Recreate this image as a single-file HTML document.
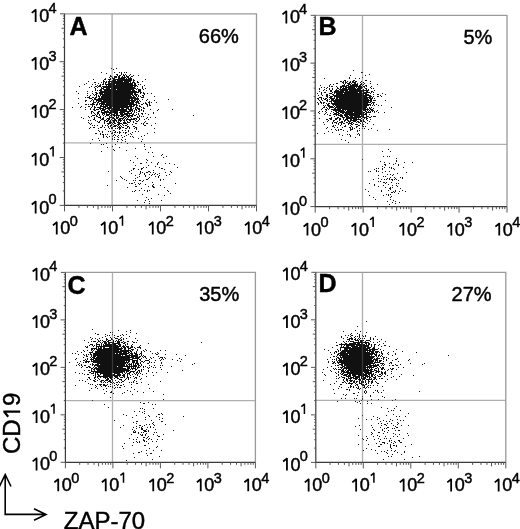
<!DOCTYPE html><html><head><meta charset="utf-8"><style>
html,body{margin:0;padding:0;background:#fff;width:520px;height:529px;overflow:hidden}
svg{display:block;will-change:transform}
text{font-family:"Liberation Sans",sans-serif;fill:#000;stroke:#000;stroke-width:0.45px}
.t{font-size:18px}
.s{font-size:14.5px}
.p{font-size:20px}
.l{font-size:25px;font-weight:bold}
.x{font-size:24px}
</style></head><body>
<svg width="520" height="529" viewBox="0 0 520 529">
<path d="M111 68h1v1h-1zM116 68h1v1h-1zM113 69h1v1h-1zM101 72h1v1h-1zM114 72h1v1h-1zM119 72h1v1h-1zM121 72h1v1h-1zM124 72h1v1h-1zM126 72h1v1h-1zM106 73h1v1h-1zM121 73h1v1h-1zM116 74h2v1h-2zM121 74h1v1h-1zM123 74h1v1h-1zM125 74h1v1h-1zM130 74h1v1h-1zM110 75h1v1h-1zM117 75h1v1h-1zM119 75h2v1h-2zM123 75h2v1h-2zM126 75h1v1h-1zM129 75h1v1h-1zM133 75h1v1h-1zM138 75h1v1h-1zM110 76h2v1h-2zM114 76h3v1h-3zM118 76h2v1h-2zM122 76h1v1h-1zM124 76h1v1h-1zM126 76h3v1h-3zM131 76h2v1h-2zM109 77h1v1h-1zM112 77h1v1h-1zM114 77h3v1h-3zM118 77h2v1h-2zM121 77h5v1h-5zM127 77h2v1h-2zM130 77h1v1h-1zM105 78h1v1h-1zM110 78h1v1h-1zM112 78h3v1h-3zM118 78h7v1h-7zM126 78h1v1h-1zM128 78h4v1h-4zM93 79h1v1h-1zM104 79h2v1h-2zM108 79h3v1h-3zM113 79h19v1h-19zM133 79h1v1h-1zM145 79h1v1h-1zM103 80h1v1h-1zM109 80h1v1h-1zM112 80h4v1h-4zM117 80h15v1h-15zM133 80h2v1h-2zM88 81h1v1h-1zM103 81h2v1h-2zM106 81h1v1h-1zM108 81h15v1h-15zM124 81h7v1h-7zM133 81h1v1h-1zM137 81h1v1h-1zM142 81h1v1h-1zM94 82h2v1h-2zM101 82h1v1h-1zM103 82h1v1h-1zM105 82h2v1h-2zM108 82h2v1h-2zM111 82h18v1h-18zM130 82h1v1h-1zM132 82h3v1h-3zM137 82h2v1h-2zM86 83h1v1h-1zM98 83h1v1h-1zM103 83h1v1h-1zM105 83h1v1h-1zM108 83h25v1h-25zM134 83h2v1h-2zM84 84h1v1h-1zM92 84h1v1h-1zM95 84h1v1h-1zM100 84h1v1h-1zM102 84h2v1h-2zM105 84h10v1h-10zM116 84h17v1h-17zM134 84h2v1h-2zM138 84h1v1h-1zM140 84h1v1h-1zM97 85h1v1h-1zM99 85h2v1h-2zM106 85h1v1h-1zM108 85h29v1h-29zM144 85h1v1h-1zM79 86h1v1h-1zM91 86h1v1h-1zM95 86h2v1h-2zM98 86h3v1h-3zM102 86h31v1h-31zM134 86h2v1h-2zM137 86h1v1h-1zM142 86h1v1h-1zM89 87h1v1h-1zM94 87h1v1h-1zM97 87h1v1h-1zM101 87h1v1h-1zM103 87h32v1h-32zM142 87h1v1h-1zM95 88h1v1h-1zM101 88h3v1h-3zM106 88h4v1h-4zM111 88h25v1h-25zM137 88h1v1h-1zM142 88h1v1h-1zM145 88h1v1h-1zM95 89h1v1h-1zM100 89h2v1h-2zM103 89h13v1h-13zM117 89h17v1h-17zM136 89h1v1h-1zM138 89h3v1h-3zM143 89h1v1h-1zM95 90h1v1h-1zM97 90h1v1h-1zM99 90h3v1h-3zM104 90h27v1h-27zM132 90h3v1h-3zM138 90h3v1h-3zM76 91h1v1h-1zM87 91h1v1h-1zM92 91h1v1h-1zM100 91h37v1h-37zM138 91h3v1h-3zM95 92h2v1h-2zM99 92h40v1h-40zM140 92h2v1h-2zM143 92h1v1h-1zM78 93h1v1h-1zM87 93h1v1h-1zM92 93h1v1h-1zM96 93h2v1h-2zM99 93h4v1h-4zM104 93h29v1h-29zM134 93h2v1h-2zM140 93h1v1h-1zM143 93h2v1h-2zM147 93h1v1h-1zM151 93h1v1h-1zM93 94h1v1h-1zM95 94h2v1h-2zM100 94h33v1h-33zM134 94h4v1h-4zM144 94h1v1h-1zM87 95h1v1h-1zM90 95h1v1h-1zM94 95h1v1h-1zM96 95h1v1h-1zM98 95h1v1h-1zM100 95h1v1h-1zM102 95h29v1h-29zM132 95h2v1h-2zM135 95h2v1h-2zM138 95h1v1h-1zM142 95h2v1h-2zM89 96h1v1h-1zM96 96h1v1h-1zM98 96h2v1h-2zM101 96h31v1h-31zM133 96h2v1h-2zM136 96h1v1h-1zM138 96h1v1h-1zM140 96h1v1h-1zM143 96h1v1h-1zM154 96h1v1h-1zM85 97h1v1h-1zM87 97h3v1h-3zM92 97h2v1h-2zM95 97h2v1h-2zM99 97h1v1h-1zM101 97h35v1h-35zM137 97h1v1h-1zM141 97h3v1h-3zM78 98h1v1h-1zM89 98h3v1h-3zM94 98h2v1h-2zM98 98h41v1h-41zM92 99h1v1h-1zM94 99h36v1h-36zM131 99h2v1h-2zM134 99h5v1h-5zM142 99h1v1h-1zM147 99h1v1h-1zM168 99h1v1h-1zM85 100h2v1h-2zM91 100h1v1h-1zM93 100h1v1h-1zM96 100h6v1h-6zM103 100h33v1h-33zM137 100h1v1h-1zM139 100h1v1h-1zM146 100h1v1h-1zM154 100h1v1h-1zM85 101h1v1h-1zM90 101h1v1h-1zM93 101h1v1h-1zM96 101h1v1h-1zM98 101h32v1h-32zM131 101h4v1h-4zM136 101h3v1h-3zM140 101h1v1h-1zM149 101h1v1h-1zM93 102h3v1h-3zM97 102h2v1h-2zM101 102h33v1h-33zM135 102h4v1h-4zM145 102h1v1h-1zM148 102h2v1h-2zM151 102h1v1h-1zM156 102h1v1h-1zM78 103h1v1h-1zM92 103h2v1h-2zM97 103h1v1h-1zM99 103h6v1h-6zM106 103h28v1h-28zM136 103h1v1h-1zM138 103h2v1h-2zM143 103h1v1h-1zM145 103h2v1h-2zM149 103h1v1h-1zM85 104h2v1h-2zM88 104h1v1h-1zM90 104h5v1h-5zM96 104h2v1h-2zM99 104h1v1h-1zM101 104h36v1h-36zM141 104h2v1h-2zM146 104h2v1h-2zM149 104h1v1h-1zM92 105h1v1h-1zM96 105h1v1h-1zM100 105h2v1h-2zM103 105h1v1h-1zM105 105h23v1h-23zM129 105h3v1h-3zM133 105h2v1h-2zM136 105h2v1h-2zM139 105h1v1h-1zM147 105h1v1h-1zM149 105h2v1h-2zM81 106h1v1h-1zM88 106h2v1h-2zM92 106h1v1h-1zM94 106h1v1h-1zM100 106h8v1h-8zM109 106h25v1h-25zM136 106h1v1h-1zM139 106h2v1h-2zM147 106h1v1h-1zM72 107h1v1h-1zM80 107h1v1h-1zM85 107h1v1h-1zM91 107h1v1h-1zM94 107h2v1h-2zM97 107h4v1h-4zM103 107h3v1h-3zM107 107h5v1h-5zM113 107h16v1h-16zM130 107h2v1h-2zM135 107h3v1h-3zM141 107h1v1h-1zM143 107h1v1h-1zM90 108h1v1h-1zM94 108h1v1h-1zM99 108h5v1h-5zM105 108h15v1h-15zM121 108h3v1h-3zM126 108h3v1h-3zM130 108h2v1h-2zM133 108h1v1h-1zM135 108h1v1h-1zM137 108h3v1h-3zM143 108h2v1h-2zM85 109h1v1h-1zM90 109h1v1h-1zM93 109h2v1h-2zM96 109h3v1h-3zM100 109h1v1h-1zM102 109h4v1h-4zM108 109h2v1h-2zM111 109h16v1h-16zM128 109h5v1h-5zM135 109h2v1h-2zM138 109h2v1h-2zM141 109h1v1h-1zM150 109h1v1h-1zM158 109h1v1h-1zM172 109h1v1h-1zM94 110h2v1h-2zM101 110h4v1h-4zM107 110h1v1h-1zM109 110h18v1h-18zM129 110h4v1h-4zM134 110h1v1h-1zM136 110h1v1h-1zM139 110h1v1h-1zM141 110h1v1h-1zM143 110h1v1h-1zM157 110h1v1h-1zM91 111h2v1h-2zM98 111h2v1h-2zM101 111h1v1h-1zM104 111h5v1h-5zM110 111h8v1h-8zM120 111h11v1h-11zM132 111h1v1h-1zM134 111h1v1h-1zM138 111h2v1h-2zM143 111h1v1h-1zM91 112h1v1h-1zM93 112h1v1h-1zM97 112h2v1h-2zM101 112h17v1h-17zM119 112h6v1h-6zM127 112h2v1h-2zM131 112h1v1h-1zM134 112h1v1h-1zM136 112h1v1h-1zM153 112h1v1h-1zM91 113h1v1h-1zM94 113h1v1h-1zM97 113h2v1h-2zM102 113h3v1h-3zM106 113h1v1h-1zM109 113h3v1h-3zM114 113h4v1h-4zM120 113h3v1h-3zM124 113h8v1h-8zM133 113h1v1h-1zM138 113h1v1h-1zM141 113h2v1h-2zM145 113h1v1h-1zM153 113h1v1h-1zM95 114h1v1h-1zM97 114h1v1h-1zM99 114h1v1h-1zM102 114h1v1h-1zM104 114h1v1h-1zM106 114h4v1h-4zM111 114h4v1h-4zM116 114h2v1h-2zM120 114h8v1h-8zM129 114h1v1h-1zM132 114h2v1h-2zM136 114h1v1h-1zM138 114h1v1h-1zM142 114h1v1h-1zM148 114h1v1h-1zM92 115h3v1h-3zM96 115h1v1h-1zM99 115h1v1h-1zM103 115h1v1h-1zM106 115h3v1h-3zM110 115h2v1h-2zM113 115h7v1h-7zM121 115h3v1h-3zM126 115h7v1h-7zM134 115h2v1h-2zM139 115h1v1h-1zM193 115h1v1h-1zM88 116h1v1h-1zM91 116h1v1h-1zM96 116h2v1h-2zM100 116h1v1h-1zM105 116h1v1h-1zM109 116h1v1h-1zM111 116h1v1h-1zM114 116h1v1h-1zM116 116h1v1h-1zM118 116h1v1h-1zM120 116h3v1h-3zM124 116h2v1h-2zM127 116h3v1h-3zM131 116h2v1h-2zM137 116h1v1h-1zM139 116h1v1h-1zM141 116h1v1h-1zM143 116h1v1h-1zM81 117h1v1h-1zM89 117h1v1h-1zM94 117h1v1h-1zM98 117h3v1h-3zM103 117h1v1h-1zM109 117h5v1h-5zM116 117h3v1h-3zM123 117h2v1h-2zM126 117h1v1h-1zM128 117h1v1h-1zM130 117h1v1h-1zM137 117h2v1h-2zM147 117h1v1h-1zM150 117h1v1h-1zM155 117h1v1h-1zM83 118h1v1h-1zM94 118h1v1h-1zM100 118h1v1h-1zM102 118h2v1h-2zM107 118h3v1h-3zM112 118h3v1h-3zM116 118h2v1h-2zM119 118h5v1h-5zM125 118h1v1h-1zM127 118h1v1h-1zM131 118h1v1h-1zM133 118h4v1h-4zM139 118h1v1h-1zM146 118h1v1h-1zM93 119h2v1h-2zM101 119h3v1h-3zM106 119h1v1h-1zM108 119h2v1h-2zM111 119h1v1h-1zM114 119h2v1h-2zM118 119h3v1h-3zM122 119h1v1h-1zM124 119h1v1h-1zM126 119h9v1h-9zM136 119h1v1h-1zM139 119h1v1h-1zM144 119h1v1h-1zM148 119h1v1h-1zM88 120h1v1h-1zM90 120h1v1h-1zM95 120h1v1h-1zM100 120h1v1h-1zM104 120h2v1h-2zM107 120h2v1h-2zM110 120h1v1h-1zM112 120h5v1h-5zM118 120h4v1h-4zM123 120h2v1h-2zM126 120h1v1h-1zM129 120h2v1h-2zM135 120h1v1h-1zM138 120h1v1h-1zM97 121h1v1h-1zM99 121h1v1h-1zM104 121h1v1h-1zM106 121h2v1h-2zM109 121h2v1h-2zM113 121h2v1h-2zM116 121h1v1h-1zM118 121h1v1h-1zM120 121h1v1h-1zM124 121h1v1h-1zM127 121h1v1h-1zM130 121h1v1h-1zM133 121h1v1h-1zM136 121h2v1h-2zM145 121h1v1h-1zM88 122h1v1h-1zM98 122h2v1h-2zM104 122h1v1h-1zM109 122h3v1h-3zM113 122h2v1h-2zM117 122h3v1h-3zM123 122h3v1h-3zM127 122h3v1h-3zM133 122h1v1h-1zM144 122h1v1h-1zM89 123h1v1h-1zM91 123h1v1h-1zM104 123h1v1h-1zM107 123h4v1h-4zM112 123h1v1h-1zM114 123h2v1h-2zM118 123h4v1h-4zM123 123h4v1h-4zM135 123h2v1h-2zM141 123h1v1h-1zM143 123h1v1h-1zM146 123h2v1h-2zM155 123h1v1h-1zM90 124h1v1h-1zM108 124h1v1h-1zM111 124h1v1h-1zM113 124h1v1h-1zM117 124h3v1h-3zM122 124h1v1h-1zM127 124h1v1h-1zM132 124h1v1h-1zM143 124h1v1h-1zM92 125h1v1h-1zM94 125h1v1h-1zM97 125h1v1h-1zM102 125h1v1h-1zM105 125h1v1h-1zM107 125h1v1h-1zM110 125h2v1h-2zM114 125h3v1h-3zM118 125h1v1h-1zM120 125h1v1h-1zM123 125h1v1h-1zM125 125h2v1h-2zM144 125h2v1h-2zM151 125h1v1h-1zM102 126h1v1h-1zM108 126h1v1h-1zM110 126h1v1h-1zM113 126h3v1h-3zM117 126h1v1h-1zM119 126h1v1h-1zM121 126h1v1h-1zM127 126h2v1h-2zM133 126h2v1h-2zM90 127h1v1h-1zM93 127h2v1h-2zM100 127h2v1h-2zM104 127h1v1h-1zM108 127h1v1h-1zM111 127h2v1h-2zM118 127h3v1h-3zM122 127h2v1h-2zM127 127h1v1h-1zM129 127h1v1h-1zM135 127h2v1h-2zM89 128h1v1h-1zM98 128h1v1h-1zM109 128h1v1h-1zM111 128h2v1h-2zM115 128h1v1h-1zM117 128h1v1h-1zM119 128h2v1h-2zM125 128h2v1h-2zM129 128h1v1h-1zM134 128h1v1h-1zM136 128h1v1h-1zM154 128h1v1h-1zM105 129h1v1h-1zM119 129h1v1h-1zM136 129h1v1h-1zM98 130h1v1h-1zM113 130h2v1h-2zM122 130h1v1h-1zM125 130h1v1h-1zM128 130h1v1h-1zM99 131h1v1h-1zM102 131h1v1h-1zM108 131h1v1h-1zM110 131h1v1h-1zM115 131h1v1h-1zM119 131h1v1h-1zM128 131h1v1h-1zM135 131h1v1h-1zM138 131h1v1h-1zM102 132h1v1h-1zM112 132h1v1h-1zM114 132h2v1h-2zM117 132h1v1h-1zM119 132h2v1h-2zM123 132h1v1h-1zM125 132h2v1h-2zM132 132h1v1h-1zM154 132h1v1h-1zM95 133h2v1h-2zM100 133h1v1h-1zM111 133h2v1h-2zM119 133h1v1h-1zM125 133h1v1h-1zM130 133h1v1h-1zM147 133h1v1h-1zM100 134h1v1h-1zM102 134h2v1h-2zM105 134h1v1h-1zM107 134h1v1h-1zM114 134h1v1h-1zM128 134h1v1h-1zM131 134h1v1h-1zM103 135h1v1h-1zM113 135h1v1h-1zM115 135h1v1h-1zM118 135h1v1h-1zM121 135h1v1h-1zM126 135h1v1h-1zM144 135h1v1h-1zM103 136h1v1h-1zM106 136h1v1h-1zM109 136h1v1h-1zM112 136h1v1h-1zM117 136h1v1h-1zM124 136h1v1h-1zM130 136h1v1h-1zM132 136h1v1h-1zM141 136h1v1h-1zM103 137h1v1h-1zM107 137h1v1h-1zM114 137h1v1h-1zM118 137h1v1h-1zM122 137h1v1h-1zM133 137h1v1h-1zM98 138h1v1h-1zM112 138h1v1h-1zM138 138h1v1h-1zM92 139h1v1h-1zM112 139h1v1h-1zM114 139h1v1h-1zM117 139h2v1h-2zM121 139h1v1h-1zM125 139h1v1h-1zM142 139h1v1h-1zM99 140h1v1h-1zM122 140h1v1h-1zM117 141h1v1h-1zM125 141h1v1h-1zM141 141h1v1h-1zM121 142h1v1h-1zM90 143h1v1h-1zM106 143h1v1h-1zM127 143h1v1h-1zM101 144h1v1h-1zM103 144h1v1h-1zM115 144h1v1h-1zM144 144h1v1h-1zM112 146h1v1h-1zM144 146h1v1h-1zM107 147h1v1h-1zM119 147h1v1h-1zM150 147h1v1h-1zM135 148h1v1h-1zM113 149h1v1h-1zM145 149h1v1h-1zM114 150h1v1h-1zM126 150h1v1h-1zM101 151h1v1h-1zM148 152h1v1h-1zM152 152h1v1h-1zM162 154h1v1h-1zM161 155h1v1h-1zM135 156h1v1h-1zM153 156h1v1h-1zM166 156h1v1h-1zM163 157h1v1h-1zM137 158h1v1h-1zM146 159h1v1h-1zM130 160h1v1h-1zM147 160h1v1h-1zM133 162h1v1h-1zM146 162h1v1h-1zM151 162h1v1h-1zM158 162h1v1h-1zM140 163h2v1h-2zM157 163h1v1h-1zM165 163h1v1h-1zM169 163h1v1h-1zM157 164h1v1h-1zM174 164h1v1h-1zM135 165h1v1h-1zM148 165h1v1h-1zM155 166h1v1h-1zM143 167h1v1h-1zM146 167h1v1h-1zM159 167h1v1h-1zM177 167h1v1h-1zM133 168h2v1h-2zM141 168h2v1h-2zM161 168h2v1h-2zM133 169h1v1h-1zM138 169h1v1h-1zM141 169h1v1h-1zM164 169h1v1h-1zM131 170h1v1h-1zM153 170h1v1h-1zM108 171h1v1h-1zM129 171h1v1h-1zM140 171h1v1h-1zM148 171h2v1h-2zM170 171h1v1h-1zM140 172h1v1h-1zM142 172h1v1h-1zM146 172h2v1h-2zM150 172h1v1h-1zM153 172h1v1h-1zM165 172h1v1h-1zM171 172h1v1h-1zM131 173h1v1h-1zM140 173h1v1h-1zM144 173h1v1h-1zM155 173h1v1h-1zM159 173h1v1h-1zM139 174h1v1h-1zM144 174h1v1h-1zM149 174h1v1h-1zM152 174h1v1h-1zM154 174h1v1h-1zM157 174h1v1h-1zM169 174h1v1h-1zM135 175h1v1h-1zM145 175h1v1h-1zM151 175h1v1h-1zM159 175h1v1h-1zM166 175h1v1h-1zM120 176h1v1h-1zM139 176h1v1h-1zM145 176h1v1h-1zM155 176h1v1h-1zM158 176h1v1h-1zM121 177h1v1h-1zM137 177h1v1h-1zM149 177h1v1h-1zM158 177h1v1h-1zM122 178h1v1h-1zM135 178h1v1h-1zM148 178h1v1h-1zM124 179h1v1h-1zM146 179h2v1h-2zM160 179h1v1h-1zM163 179h1v1h-1zM116 180h1v1h-1zM126 180h1v1h-1zM133 180h1v1h-1zM135 180h1v1h-1zM139 180h2v1h-2zM143 180h1v1h-1zM160 180h1v1h-1zM142 181h1v1h-1zM134 182h1v1h-1zM152 182h1v1h-1zM129 183h1v1h-1zM131 183h2v1h-2zM138 183h1v1h-1zM140 183h1v1h-1zM175 183h1v1h-1zM135 184h1v1h-1zM139 184h1v1h-1zM145 184h1v1h-1zM153 184h1v1h-1zM107 185h1v1h-1zM152 185h1v1h-1zM160 185h1v1h-1zM135 186h2v1h-2zM148 186h1v1h-1zM152 186h2v1h-2zM127 187h1v1h-1zM153 187h2v1h-2zM164 187h1v1h-1zM141 188h1v1h-1zM135 190h1v1h-1zM139 190h1v1h-1zM144 190h1v1h-1zM147 190h1v1h-1zM149 190h1v1h-1zM167 190h1v1h-1zM132 191h1v1h-1zM134 191h1v1h-1zM147 191h1v1h-1zM168 191h1v1h-1zM170 193h1v1h-1zM142 194h1v1h-1zM158 194h1v1h-1zM164 195h1v1h-1zM146 197h1v1h-1zM151 198h1v1h-1zM148 199h1v1h-1zM137 200h1v1h-1zM145 200h1v1h-1zM161 200h1v1h-1zM149 201h1v1h-1zM144 202h1v1h-1zM149 203h1v1h-1z" fill="#111"/><path d="M112.1 13.8V205.4M64.5 142.9H256.5" stroke="#606060" stroke-opacity="0.5" stroke-width="1.3" fill="none"/><path d="M64.5 13.8H256.5V205.4" stroke="#9a9a9a" stroke-width="1.3" fill="none"/><path d="M64.5 13.8V205.4H256.5" stroke="#3a3a3a" stroke-width="1.2" fill="none"/><path d="M59.70 205.40H64.50M62.90 190.98H64.50M62.90 182.55H64.50M62.90 176.56H64.50M61.50 171.92H64.50M62.90 168.13H64.50M62.90 164.92H64.50M62.90 162.14H64.50M62.90 159.69H64.50M59.70 157.50H64.50M62.90 143.08H64.50M62.90 134.65H64.50M62.90 128.66H64.50M61.50 124.02H64.50M62.90 120.23H64.50M62.90 117.02H64.50M62.90 114.24H64.50M62.90 111.79H64.50M59.70 109.60H64.50M62.90 95.18H64.50M62.90 86.75H64.50M62.90 80.76H64.50M61.50 76.12H64.50M62.90 72.33H64.50M62.90 69.12H64.50M62.90 66.34H64.50M62.90 63.89H64.50M59.70 61.70H64.50M62.90 47.28H64.50M62.90 38.85H64.50M62.90 32.86H64.50M61.50 28.22H64.50M62.90 24.43H64.50M62.90 21.22H64.50M62.90 18.44H64.50M62.90 15.99H64.50M60.00 13.80H64.50M64.50 205.40V211.40M78.95 205.40V207.90M87.40 205.40V207.90M93.40 205.40V207.90M98.05 205.40V209.40M101.85 205.40V207.90M105.06 205.40V207.90M107.85 205.40V207.90M110.30 205.40V207.90M112.50 205.40V211.40M126.95 205.40V207.90M135.40 205.40V207.90M141.40 205.40V207.90M146.05 205.40V209.40M149.85 205.40V207.90M153.06 205.40V207.90M155.85 205.40V207.90M158.30 205.40V207.90M160.50 205.40V211.40M174.95 205.40V207.90M183.40 205.40V207.90M189.40 205.40V207.90M194.05 205.40V209.40M197.85 205.40V207.90M201.06 205.40V207.90M203.85 205.40V207.90M206.30 205.40V207.90M208.50 205.40V211.40M222.95 205.40V207.90M231.40 205.40V207.90M237.40 205.40V207.90M242.05 205.40V209.40M245.85 205.40V207.90M249.06 205.40V207.90M251.85 205.40V207.90M254.30 205.40V207.90M256.50 205.40V211.40" stroke="#555" stroke-width="1" fill="none"/><text x="39.20" y="213.50" class="t">0</text><text x="48.40" y="204.40" class="s">0</text><text x="60.30" y="234.40" class="t">0</text><text x="69.80" y="225.80" class="s">0</text><text x="39.20" y="165.60" class="t">0</text><text x="108.30" y="234.40" class="t">0</text><text x="39.20" y="117.70" class="t">0</text><text x="48.40" y="108.60" class="s">2</text><text x="156.30" y="234.40" class="t">0</text><text x="165.80" y="225.80" class="s">2</text><text x="39.20" y="69.80" class="t">0</text><text x="48.40" y="60.70" class="s">3</text><text x="204.30" y="234.40" class="t">0</text><text x="213.80" y="225.80" class="s">3</text><text x="39.20" y="21.90" class="t">0</text><text x="48.40" y="12.80" class="s">4</text><text x="252.30" y="234.40" class="t">0</text><text x="261.80" y="225.80" class="s">4</text><text x="69.5" y="34.6" class="l">A</text><text x="238.8" y="43.0" class="p" text-anchor="end">66%</text><path d="M353 70h1v1h-1zM361 72h2v1h-2zM369 74h1v1h-1zM350 75h1v1h-1zM365 75h1v1h-1zM349 77h1v1h-1zM362 77h1v1h-1zM324 78h1v1h-1zM349 78h1v1h-1zM355 78h1v1h-1zM359 78h1v1h-1zM344 80h2v1h-2zM353 80h2v1h-2zM365 80h2v1h-2zM340 81h2v1h-2zM343 81h1v1h-1zM345 81h1v1h-1zM347 81h1v1h-1zM350 81h1v1h-1zM352 81h2v1h-2zM355 81h2v1h-2zM361 81h1v1h-1zM370 81h1v1h-1zM342 82h2v1h-2zM345 82h2v1h-2zM349 82h2v1h-2zM352 82h4v1h-4zM360 82h1v1h-1zM363 82h1v1h-1zM336 83h2v1h-2zM343 83h1v1h-1zM345 83h1v1h-1zM347 83h3v1h-3zM351 83h1v1h-1zM354 83h2v1h-2zM357 83h1v1h-1zM361 83h1v1h-1zM364 83h1v1h-1zM370 83h1v1h-1zM330 84h1v1h-1zM333 84h1v1h-1zM344 84h1v1h-1zM348 84h3v1h-3zM352 84h6v1h-6zM360 84h2v1h-2zM363 84h1v1h-1zM377 84h1v1h-1zM320 85h1v1h-1zM329 85h1v1h-1zM342 85h3v1h-3zM346 85h3v1h-3zM350 85h8v1h-8zM359 85h2v1h-2zM362 85h1v1h-1zM365 85h2v1h-2zM329 86h1v1h-1zM331 86h2v1h-2zM336 86h1v1h-1zM340 86h7v1h-7zM348 86h14v1h-14zM363 86h2v1h-2zM366 86h1v1h-1zM371 86h1v1h-1zM321 87h1v1h-1zM324 87h1v1h-1zM327 87h1v1h-1zM337 87h1v1h-1zM340 87h2v1h-2zM343 87h1v1h-1zM345 87h10v1h-10zM356 87h1v1h-1zM358 87h5v1h-5zM364 87h1v1h-1zM370 87h1v1h-1zM319 88h1v1h-1zM326 88h1v1h-1zM329 88h1v1h-1zM332 88h1v1h-1zM337 88h2v1h-2zM340 88h1v1h-1zM342 88h5v1h-5zM348 88h8v1h-8zM357 88h5v1h-5zM365 88h2v1h-2zM371 88h1v1h-1zM373 88h1v1h-1zM319 89h1v1h-1zM324 89h1v1h-1zM329 89h1v1h-1zM332 89h1v1h-1zM336 89h1v1h-1zM339 89h22v1h-22zM363 89h1v1h-1zM366 89h1v1h-1zM368 89h1v1h-1zM323 90h1v1h-1zM326 90h1v1h-1zM330 90h2v1h-2zM335 90h4v1h-4zM340 90h8v1h-8zM349 90h20v1h-20zM374 90h1v1h-1zM319 91h1v1h-1zM330 91h2v1h-2zM334 91h10v1h-10zM345 91h19v1h-19zM366 91h2v1h-2zM371 91h2v1h-2zM321 92h1v1h-1zM324 92h2v1h-2zM332 92h1v1h-1zM334 92h24v1h-24zM359 92h3v1h-3zM363 92h7v1h-7zM371 92h1v1h-1zM373 92h1v1h-1zM317 93h1v1h-1zM321 93h1v1h-1zM329 93h3v1h-3zM334 93h1v1h-1zM336 93h7v1h-7zM344 93h23v1h-23zM370 93h1v1h-1zM382 93h1v1h-1zM321 94h1v1h-1zM326 94h2v1h-2zM332 94h2v1h-2zM336 94h28v1h-28zM365 94h4v1h-4zM373 94h1v1h-1zM377 94h2v1h-2zM385 94h1v1h-1zM318 95h1v1h-1zM322 95h1v1h-1zM326 95h2v1h-2zM329 95h1v1h-1zM333 95h38v1h-38zM380 95h1v1h-1zM326 96h2v1h-2zM330 96h3v1h-3zM334 96h33v1h-33zM369 96h3v1h-3zM373 96h1v1h-1zM377 96h2v1h-2zM381 96h1v1h-1zM319 97h3v1h-3zM327 97h1v1h-1zM329 97h3v1h-3zM334 97h1v1h-1zM336 97h35v1h-35zM372 97h1v1h-1zM317 98h2v1h-2zM321 98h1v1h-1zM323 98h1v1h-1zM325 98h2v1h-2zM330 98h5v1h-5zM336 98h2v1h-2zM339 98h29v1h-29zM369 98h4v1h-4zM374 98h1v1h-1zM318 99h1v1h-1zM321 99h1v1h-1zM324 99h2v1h-2zM327 99h1v1h-1zM329 99h1v1h-1zM331 99h3v1h-3zM335 99h34v1h-34zM370 99h2v1h-2zM319 100h1v1h-1zM322 100h1v1h-1zM326 100h2v1h-2zM331 100h41v1h-41zM373 100h3v1h-3zM385 100h1v1h-1zM320 101h1v1h-1zM327 101h1v1h-1zM329 101h3v1h-3zM333 101h36v1h-36zM370 101h2v1h-2zM317 102h1v1h-1zM320 102h2v1h-2zM323 102h2v1h-2zM331 102h1v1h-1zM334 102h37v1h-37zM372 102h3v1h-3zM318 103h1v1h-1zM321 103h1v1h-1zM323 103h1v1h-1zM326 103h1v1h-1zM328 103h2v1h-2zM331 103h37v1h-37zM371 103h1v1h-1zM373 103h1v1h-1zM318 104h1v1h-1zM327 104h2v1h-2zM332 104h39v1h-39zM373 104h1v1h-1zM376 104h1v1h-1zM323 105h1v1h-1zM325 105h1v1h-1zM327 105h3v1h-3zM333 105h1v1h-1zM335 105h34v1h-34zM370 105h1v1h-1zM372 105h1v1h-1zM374 105h1v1h-1zM378 105h1v1h-1zM381 105h1v1h-1zM324 106h1v1h-1zM328 106h5v1h-5zM334 106h1v1h-1zM336 106h31v1h-31zM323 107h2v1h-2zM326 107h1v1h-1zM329 107h5v1h-5zM335 107h32v1h-32zM369 107h1v1h-1zM371 107h1v1h-1zM391 107h1v1h-1zM322 108h1v1h-1zM327 108h1v1h-1zM329 108h1v1h-1zM334 108h2v1h-2zM337 108h29v1h-29zM367 108h1v1h-1zM369 108h2v1h-2zM373 108h1v1h-1zM321 109h1v1h-1zM325 109h2v1h-2zM328 109h1v1h-1zM331 109h10v1h-10zM342 109h27v1h-27zM370 109h3v1h-3zM326 110h1v1h-1zM333 110h11v1h-11zM345 110h1v1h-1zM347 110h15v1h-15zM363 110h3v1h-3zM367 110h1v1h-1zM369 110h1v1h-1zM371 110h3v1h-3zM377 110h1v1h-1zM319 111h1v1h-1zM322 111h1v1h-1zM325 111h1v1h-1zM331 111h1v1h-1zM335 111h2v1h-2zM338 111h7v1h-7zM346 111h17v1h-17zM365 111h2v1h-2zM368 111h1v1h-1zM370 111h1v1h-1zM372 111h1v1h-1zM374 111h1v1h-1zM376 111h1v1h-1zM318 112h1v1h-1zM326 112h1v1h-1zM333 112h1v1h-1zM336 112h3v1h-3zM340 112h13v1h-13zM354 112h11v1h-11zM366 112h5v1h-5zM374 112h1v1h-1zM378 112h1v1h-1zM384 112h1v1h-1zM319 113h1v1h-1zM325 113h1v1h-1zM330 113h1v1h-1zM334 113h3v1h-3zM338 113h2v1h-2zM342 113h2v1h-2zM345 113h19v1h-19zM365 113h2v1h-2zM324 114h1v1h-1zM327 114h1v1h-1zM333 114h6v1h-6zM340 114h2v1h-2zM344 114h23v1h-23zM369 114h1v1h-1zM329 115h2v1h-2zM336 115h1v1h-1zM338 115h5v1h-5zM344 115h4v1h-4zM349 115h11v1h-11zM361 115h3v1h-3zM366 115h1v1h-1zM334 116h1v1h-1zM340 116h3v1h-3zM345 116h4v1h-4zM350 116h3v1h-3zM354 116h10v1h-10zM366 116h3v1h-3zM371 116h1v1h-1zM373 116h3v1h-3zM331 117h1v1h-1zM337 117h2v1h-2zM342 117h3v1h-3zM346 117h15v1h-15zM362 117h5v1h-5zM369 117h2v1h-2zM319 118h1v1h-1zM329 118h3v1h-3zM335 118h3v1h-3zM339 118h2v1h-2zM343 118h1v1h-1zM346 118h11v1h-11zM358 118h1v1h-1zM361 118h1v1h-1zM364 118h1v1h-1zM366 118h2v1h-2zM326 119h2v1h-2zM330 119h2v1h-2zM335 119h2v1h-2zM339 119h2v1h-2zM343 119h1v1h-1zM345 119h3v1h-3zM350 119h2v1h-2zM353 119h8v1h-8zM363 119h1v1h-1zM366 119h1v1h-1zM370 119h1v1h-1zM328 120h1v1h-1zM333 120h2v1h-2zM339 120h1v1h-1zM344 120h2v1h-2zM347 120h2v1h-2zM350 120h7v1h-7zM360 120h2v1h-2zM363 120h1v1h-1zM367 120h1v1h-1zM327 121h1v1h-1zM333 121h1v1h-1zM337 121h1v1h-1zM341 121h2v1h-2zM344 121h1v1h-1zM348 121h3v1h-3zM353 121h3v1h-3zM357 121h2v1h-2zM360 121h2v1h-2zM363 121h2v1h-2zM369 121h1v1h-1zM323 122h1v1h-1zM332 122h1v1h-1zM334 122h3v1h-3zM339 122h4v1h-4zM346 122h2v1h-2zM349 122h1v1h-1zM351 122h2v1h-2zM356 122h1v1h-1zM358 122h2v1h-2zM362 122h1v1h-1zM365 122h1v1h-1zM332 123h1v1h-1zM336 123h1v1h-1zM338 123h1v1h-1zM341 123h1v1h-1zM343 123h2v1h-2zM348 123h4v1h-4zM353 123h1v1h-1zM360 123h1v1h-1zM362 123h1v1h-1zM367 123h1v1h-1zM324 124h1v1h-1zM338 124h1v1h-1zM341 124h1v1h-1zM348 124h1v1h-1zM351 124h2v1h-2zM355 124h3v1h-3zM362 124h2v1h-2zM373 124h1v1h-1zM333 125h1v1h-1zM335 125h1v1h-1zM340 125h1v1h-1zM345 125h1v1h-1zM350 125h1v1h-1zM358 125h2v1h-2zM362 125h1v1h-1zM332 126h2v1h-2zM344 126h2v1h-2zM351 126h1v1h-1zM356 126h2v1h-2zM362 126h2v1h-2zM365 126h1v1h-1zM327 127h1v1h-1zM334 127h1v1h-1zM337 127h1v1h-1zM342 127h1v1h-1zM349 127h2v1h-2zM352 127h1v1h-1zM356 127h1v1h-1zM326 128h1v1h-1zM350 128h1v1h-1zM352 128h1v1h-1zM354 128h1v1h-1zM359 128h1v1h-1zM362 128h1v1h-1zM364 128h1v1h-1zM371 128h1v1h-1zM331 129h1v1h-1zM335 129h1v1h-1zM338 129h1v1h-1zM340 129h2v1h-2zM350 129h3v1h-3zM368 129h1v1h-1zM389 129h1v1h-1zM336 130h1v1h-1zM338 130h1v1h-1zM343 130h1v1h-1zM350 130h1v1h-1zM357 130h1v1h-1zM359 130h1v1h-1zM377 130h1v1h-1zM328 131h1v1h-1zM347 131h1v1h-1zM357 131h1v1h-1zM332 132h1v1h-1zM317 133h1v1h-1zM324 133h1v1h-1zM358 133h1v1h-1zM339 134h1v1h-1zM347 134h1v1h-1zM349 134h1v1h-1zM357 134h1v1h-1zM359 134h1v1h-1zM342 135h1v1h-1zM350 135h1v1h-1zM359 135h1v1h-1zM350 136h1v1h-1zM355 137h1v1h-1zM341 139h1v1h-1zM345 140h1v1h-1zM348 142h1v1h-1zM388 149h1v1h-1zM382 151h1v1h-1zM390 151h1v1h-1zM383 156h1v1h-1zM387 156h1v1h-1zM389 156h1v1h-1zM396 158h1v1h-1zM362 159h1v1h-1zM396 160h1v1h-1zM380 161h1v1h-1zM396 161h1v1h-1zM384 162h1v1h-1zM404 162h1v1h-1zM412 162h1v1h-1zM389 163h1v1h-1zM395 163h1v1h-1zM384 164h2v1h-2zM393 164h1v1h-1zM398 164h1v1h-1zM385 165h1v1h-1zM398 165h1v1h-1zM382 166h1v1h-1zM384 167h1v1h-1zM389 167h1v1h-1zM391 167h1v1h-1zM403 167h1v1h-1zM376 168h1v1h-1zM378 168h1v1h-1zM382 168h1v1h-1zM391 168h1v1h-1zM393 168h1v1h-1zM374 169h1v1h-1zM382 169h1v1h-1zM394 169h1v1h-1zM376 170h1v1h-1zM368 171h1v1h-1zM370 171h1v1h-1zM376 171h1v1h-1zM378 171h1v1h-1zM385 171h1v1h-1zM389 171h1v1h-1zM382 172h1v1h-1zM406 172h1v1h-1zM397 173h1v1h-1zM387 174h1v1h-1zM390 174h1v1h-1zM393 174h1v1h-1zM378 175h1v1h-1zM392 175h1v1h-1zM383 176h1v1h-1zM385 176h1v1h-1zM390 177h1v1h-1zM394 177h1v1h-1zM400 177h1v1h-1zM402 177h1v1h-1zM378 178h1v1h-1zM387 178h1v1h-1zM389 178h1v1h-1zM395 178h1v1h-1zM402 178h1v1h-1zM373 179h1v1h-1zM381 179h1v1h-1zM384 179h1v1h-1zM386 179h1v1h-1zM389 179h1v1h-1zM391 179h2v1h-2zM394 179h1v1h-1zM396 179h1v1h-1zM392 180h1v1h-1zM398 180h1v1h-1zM378 181h1v1h-1zM380 181h1v1h-1zM383 182h2v1h-2zM386 182h1v1h-1zM391 182h1v1h-1zM369 183h1v1h-1zM385 183h1v1h-1zM396 183h1v1h-1zM398 183h1v1h-1zM374 184h1v1h-1zM388 184h1v1h-1zM374 185h1v1h-1zM383 185h1v1h-1zM392 185h1v1h-1zM396 185h1v1h-1zM378 186h1v1h-1zM397 186h1v1h-1zM385 187h1v1h-1zM390 187h1v1h-1zM392 187h1v1h-1zM389 188h2v1h-2zM400 188h1v1h-1zM365 189h1v1h-1zM390 189h1v1h-1zM381 190h1v1h-1zM388 190h1v1h-1zM395 190h1v1h-1zM402 190h1v1h-1zM368 191h1v1h-1zM381 191h1v1h-1zM393 191h1v1h-1zM395 191h1v1h-1zM399 191h1v1h-1zM405 191h1v1h-1zM391 192h2v1h-2zM394 192h1v1h-1zM398 193h1v1h-1zM386 194h1v1h-1zM388 194h1v1h-1zM390 194h1v1h-1zM369 195h1v1h-1zM383 195h1v1h-1zM388 195h1v1h-1zM391 196h1v1h-1zM373 197h1v1h-1zM390 197h1v1h-1zM375 199h1v1h-1zM390 199h1v1h-1zM393 200h1v1h-1zM387 201h1v1h-1zM395 201h1v1h-1zM392 202h1v1h-1zM399 202h1v1h-1zM395 203h1v1h-1zM389 204h1v1h-1z" fill="#111"/><path d="M362.5 15.3V206.6M315.2 144.3H507.0" stroke="#606060" stroke-opacity="0.5" stroke-width="1.3" fill="none"/><path d="M315.2 15.3H507.0V206.6" stroke="#9a9a9a" stroke-width="1.3" fill="none"/><path d="M315.2 15.3V206.6H507.0" stroke="#3a3a3a" stroke-width="1.2" fill="none"/><path d="M310.40 206.60H315.20M313.60 192.20H315.20M313.60 183.78H315.20M313.60 177.81H315.20M312.20 173.17H315.20M313.60 169.38H315.20M313.60 166.18H315.20M313.60 163.41H315.20M313.60 160.96H315.20M310.40 158.78H315.20M313.60 144.38H315.20M313.60 135.96H315.20M313.60 129.98H315.20M312.20 125.35H315.20M313.60 121.56H315.20M313.60 118.36H315.20M313.60 115.58H315.20M313.60 113.14H315.20M310.40 110.95H315.20M313.60 96.55H315.20M313.60 88.13H315.20M313.60 82.16H315.20M312.20 77.52H315.20M313.60 73.73H315.20M313.60 70.53H315.20M313.60 67.76H315.20M313.60 65.31H315.20M310.40 63.12H315.20M313.60 48.73H315.20M313.60 40.31H315.20M313.60 34.33H315.20M312.20 29.70H315.20M313.60 25.91H315.20M313.60 22.71H315.20M313.60 19.93H315.20M313.60 17.49H315.20M310.70 15.30H315.20M315.20 206.60V212.60M329.63 206.60V209.10M338.08 206.60V209.10M344.07 206.60V209.10M348.72 206.60V210.60M352.51 206.60V209.10M355.72 206.60V209.10M358.50 206.60V209.10M360.96 206.60V209.10M363.15 206.60V212.60M377.58 206.60V209.10M386.03 206.60V209.10M392.02 206.60V209.10M396.67 206.60V210.60M400.46 206.60V209.10M403.67 206.60V209.10M406.45 206.60V209.10M408.91 206.60V209.10M411.10 206.60V212.60M425.53 206.60V209.10M433.98 206.60V209.10M439.97 206.60V209.10M444.62 206.60V210.60M448.41 206.60V209.10M451.62 206.60V209.10M454.40 206.60V209.10M456.86 206.60V209.10M459.05 206.60V212.60M473.48 206.60V209.10M481.93 206.60V209.10M487.92 206.60V209.10M492.57 206.60V210.60M496.36 206.60V209.10M499.57 206.60V209.10M502.35 206.60V209.10M504.81 206.60V209.10M507.00 206.60V212.60" stroke="#555" stroke-width="1" fill="none"/><text x="289.90" y="214.70" class="t">0</text><text x="299.10" y="205.60" class="s">0</text><text x="311.00" y="235.60" class="t">0</text><text x="320.50" y="227.00" class="s">0</text><text x="289.90" y="166.88" class="t">0</text><text x="358.95" y="235.60" class="t">0</text><text x="289.90" y="119.05" class="t">0</text><text x="299.10" y="109.95" class="s">2</text><text x="406.90" y="235.60" class="t">0</text><text x="416.40" y="227.00" class="s">2</text><text x="289.90" y="71.22" class="t">0</text><text x="299.10" y="62.12" class="s">3</text><text x="454.85" y="235.60" class="t">0</text><text x="464.35" y="227.00" class="s">3</text><text x="289.90" y="23.40" class="t">0</text><text x="299.10" y="14.30" class="s">4</text><text x="502.80" y="235.60" class="t">0</text><text x="512.30" y="227.00" class="s">4</text><text x="318.5" y="35.4" class="l">B</text><text x="492.3" y="44.4" class="p" text-anchor="end">5%</text><path d="M92 329h1v1h-1zM118 330h1v1h-1zM130 330h1v1h-1zM126 331h1v1h-1zM110 332h1v1h-1zM112 332h1v1h-1zM130 332h1v1h-1zM95 333h1v1h-1zM136 333h1v1h-1zM97 334h2v1h-2zM105 334h1v1h-1zM112 334h1v1h-1zM122 334h1v1h-1zM126 334h1v1h-1zM107 335h1v1h-1zM109 335h1v1h-1zM114 335h1v1h-1zM120 335h1v1h-1zM123 335h1v1h-1zM105 336h1v1h-1zM117 336h2v1h-2zM129 336h1v1h-1zM90 337h1v1h-1zM102 337h1v1h-1zM110 337h1v1h-1zM114 337h1v1h-1zM121 337h1v1h-1zM92 338h1v1h-1zM95 338h1v1h-1zM99 338h1v1h-1zM106 338h1v1h-1zM111 338h1v1h-1zM115 338h3v1h-3zM120 338h1v1h-1zM123 338h1v1h-1zM126 338h1v1h-1zM135 338h1v1h-1zM91 339h1v1h-1zM97 339h1v1h-1zM106 339h2v1h-2zM111 339h2v1h-2zM118 339h2v1h-2zM121 339h1v1h-1zM123 339h1v1h-1zM84 340h1v1h-1zM98 340h1v1h-1zM100 340h1v1h-1zM102 340h1v1h-1zM106 340h1v1h-1zM108 340h3v1h-3zM113 340h1v1h-1zM116 340h1v1h-1zM118 340h1v1h-1zM120 340h2v1h-2zM137 340h1v1h-1zM91 341h1v1h-1zM93 341h3v1h-3zM98 341h2v1h-2zM103 341h3v1h-3zM107 341h2v1h-2zM113 341h1v1h-1zM115 341h1v1h-1zM117 341h3v1h-3zM123 341h1v1h-1zM127 341h2v1h-2zM132 341h1v1h-1zM88 342h1v1h-1zM97 342h1v1h-1zM100 342h1v1h-1zM102 342h1v1h-1zM104 342h3v1h-3zM108 342h6v1h-6zM117 342h3v1h-3zM121 342h2v1h-2zM124 342h2v1h-2zM133 342h2v1h-2zM136 342h1v1h-1zM201 342h1v1h-1zM96 343h1v1h-1zM101 343h1v1h-1zM104 343h3v1h-3zM108 343h2v1h-2zM112 343h8v1h-8zM123 343h2v1h-2zM127 343h1v1h-1zM148 343h1v1h-1zM90 344h3v1h-3zM96 344h4v1h-4zM101 344h1v1h-1zM103 344h1v1h-1zM105 344h11v1h-11zM118 344h3v1h-3zM125 344h1v1h-1zM127 344h1v1h-1zM132 344h1v1h-1zM89 345h1v1h-1zM92 345h1v1h-1zM94 345h1v1h-1zM96 345h1v1h-1zM99 345h1v1h-1zM101 345h1v1h-1zM103 345h15v1h-15zM119 345h2v1h-2zM123 345h1v1h-1zM125 345h1v1h-1zM131 345h1v1h-1zM140 345h1v1h-1zM85 346h1v1h-1zM87 346h1v1h-1zM93 346h1v1h-1zM96 346h25v1h-25zM122 346h3v1h-3zM126 346h3v1h-3zM131 346h2v1h-2zM139 346h1v1h-1zM86 347h2v1h-2zM96 347h1v1h-1zM98 347h1v1h-1zM100 347h2v1h-2zM103 347h2v1h-2zM109 347h10v1h-10zM121 347h1v1h-1zM123 347h3v1h-3zM127 347h2v1h-2zM130 347h3v1h-3zM134 347h1v1h-1zM137 347h4v1h-4zM91 348h6v1h-6zM98 348h4v1h-4zM103 348h20v1h-20zM124 348h2v1h-2zM128 348h3v1h-3zM135 348h1v1h-1zM140 348h1v1h-1zM91 349h2v1h-2zM94 349h1v1h-1zM96 349h26v1h-26zM124 349h2v1h-2zM128 349h1v1h-1zM131 349h3v1h-3zM137 349h1v1h-1zM145 349h1v1h-1zM83 350h1v1h-1zM87 350h1v1h-1zM91 350h1v1h-1zM93 350h1v1h-1zM97 350h22v1h-22zM120 350h11v1h-11zM132 350h1v1h-1zM137 350h1v1h-1zM143 350h1v1h-1zM146 350h1v1h-1zM160 350h1v1h-1zM165 350h1v1h-1zM77 351h1v1h-1zM84 351h1v1h-1zM92 351h1v1h-1zM95 351h34v1h-34zM130 351h2v1h-2zM136 351h1v1h-1zM141 351h1v1h-1zM144 351h1v1h-1zM150 351h1v1h-1zM81 352h1v1h-1zM89 352h4v1h-4zM95 352h27v1h-27zM123 352h4v1h-4zM128 352h2v1h-2zM131 352h1v1h-1zM134 352h1v1h-1zM136 352h1v1h-1zM141 352h1v1h-1zM157 352h1v1h-1zM72 353h1v1h-1zM75 353h1v1h-1zM90 353h1v1h-1zM93 353h22v1h-22zM116 353h2v1h-2zM119 353h10v1h-10zM130 353h3v1h-3zM134 353h3v1h-3zM140 353h2v1h-2zM152 353h1v1h-1zM155 353h1v1h-1zM158 353h1v1h-1zM78 354h1v1h-1zM83 354h1v1h-1zM86 354h1v1h-1zM88 354h1v1h-1zM90 354h2v1h-2zM93 354h34v1h-34zM129 354h1v1h-1zM131 354h2v1h-2zM135 354h3v1h-3zM139 354h1v1h-1zM141 354h1v1h-1zM156 354h2v1h-2zM165 354h1v1h-1zM176 354h1v1h-1zM84 355h1v1h-1zM86 355h1v1h-1zM91 355h1v1h-1zM93 355h28v1h-28zM122 355h1v1h-1zM125 355h13v1h-13zM141 355h1v1h-1zM143 355h1v1h-1zM185 355h1v1h-1zM86 356h2v1h-2zM91 356h1v1h-1zM93 356h3v1h-3zM97 356h33v1h-33zM131 356h7v1h-7zM139 356h2v1h-2zM142 356h1v1h-1zM144 356h2v1h-2zM158 356h1v1h-1zM83 357h1v1h-1zM90 357h1v1h-1zM92 357h3v1h-3zM96 357h38v1h-38zM135 357h5v1h-5zM143 357h1v1h-1zM145 357h1v1h-1zM150 357h1v1h-1zM153 357h1v1h-1zM160 357h3v1h-3zM164 357h1v1h-1zM76 358h1v1h-1zM87 358h1v1h-1zM91 358h1v1h-1zM93 358h37v1h-37zM132 358h7v1h-7zM141 358h1v1h-1zM146 358h1v1h-1zM151 358h1v1h-1zM159 358h1v1h-1zM162 358h1v1h-1zM165 358h1v1h-1zM179 358h1v1h-1zM75 359h1v1h-1zM85 359h1v1h-1zM87 359h1v1h-1zM90 359h4v1h-4zM95 359h38v1h-38zM137 359h1v1h-1zM139 359h2v1h-2zM149 359h1v1h-1zM161 359h1v1h-1zM163 359h1v1h-1zM172 359h1v1h-1zM181 359h1v1h-1zM83 360h2v1h-2zM86 360h1v1h-1zM91 360h1v1h-1zM93 360h37v1h-37zM132 360h6v1h-6zM140 360h1v1h-1zM145 360h4v1h-4zM155 360h1v1h-1zM160 360h1v1h-1zM177 360h1v1h-1zM80 361h1v1h-1zM85 361h5v1h-5zM91 361h34v1h-34zM126 361h1v1h-1zM128 361h2v1h-2zM132 361h3v1h-3zM136 361h2v1h-2zM141 361h2v1h-2zM144 361h1v1h-1zM149 361h1v1h-1zM180 361h1v1h-1zM69 362h1v1h-1zM77 362h1v1h-1zM83 362h1v1h-1zM85 362h2v1h-2zM88 362h1v1h-1zM93 362h36v1h-36zM132 362h3v1h-3zM136 362h2v1h-2zM140 362h1v1h-1zM143 362h1v1h-1zM149 362h1v1h-1zM151 362h1v1h-1zM154 362h1v1h-1zM161 362h1v1h-1zM79 363h1v1h-1zM92 363h1v1h-1zM97 363h29v1h-29zM127 363h1v1h-1zM129 363h1v1h-1zM131 363h1v1h-1zM133 363h1v1h-1zM135 363h4v1h-4zM140 363h1v1h-1zM147 363h2v1h-2zM161 363h1v1h-1zM194 363h1v1h-1zM78 364h1v1h-1zM81 364h1v1h-1zM90 364h1v1h-1zM92 364h2v1h-2zM95 364h4v1h-4zM100 364h25v1h-25zM126 364h1v1h-1zM128 364h4v1h-4zM133 364h1v1h-1zM135 364h1v1h-1zM137 364h2v1h-2zM141 364h1v1h-1zM192 364h1v1h-1zM76 365h1v1h-1zM79 365h1v1h-1zM81 365h1v1h-1zM84 365h2v1h-2zM92 365h1v1h-1zM94 365h31v1h-31zM126 365h2v1h-2zM129 365h1v1h-1zM131 365h1v1h-1zM133 365h4v1h-4zM138 365h2v1h-2zM141 365h1v1h-1zM149 365h1v1h-1zM154 365h1v1h-1zM160 365h1v1h-1zM162 365h1v1h-1zM82 366h1v1h-1zM88 366h2v1h-2zM94 366h1v1h-1zM97 366h20v1h-20zM118 366h19v1h-19zM138 366h1v1h-1zM140 366h1v1h-1zM143 366h1v1h-1zM145 366h1v1h-1zM151 366h1v1h-1zM171 366h1v1h-1zM81 367h1v1h-1zM86 367h2v1h-2zM89 367h2v1h-2zM93 367h1v1h-1zM95 367h2v1h-2zM98 367h25v1h-25zM127 367h3v1h-3zM131 367h1v1h-1zM133 367h1v1h-1zM135 367h1v1h-1zM137 367h3v1h-3zM143 367h1v1h-1zM147 367h1v1h-1zM149 367h1v1h-1zM153 367h1v1h-1zM155 367h1v1h-1zM160 367h1v1h-1zM91 368h2v1h-2zM94 368h32v1h-32zM127 368h3v1h-3zM131 368h5v1h-5zM137 368h1v1h-1zM148 368h1v1h-1zM91 369h1v1h-1zM93 369h2v1h-2zM96 369h33v1h-33zM130 369h1v1h-1zM132 369h1v1h-1zM135 369h2v1h-2zM141 369h1v1h-1zM143 369h1v1h-1zM161 369h1v1h-1zM84 370h1v1h-1zM88 370h2v1h-2zM91 370h1v1h-1zM94 370h1v1h-1zM97 370h33v1h-33zM135 370h1v1h-1zM138 370h2v1h-2zM141 370h1v1h-1zM148 370h1v1h-1zM182 370h1v1h-1zM91 371h34v1h-34zM126 371h3v1h-3zM130 371h5v1h-5zM137 371h1v1h-1zM139 371h1v1h-1zM141 371h1v1h-1zM148 371h1v1h-1zM75 372h1v1h-1zM89 372h2v1h-2zM93 372h1v1h-1zM95 372h28v1h-28zM124 372h1v1h-1zM126 372h1v1h-1zM129 372h2v1h-2zM133 372h1v1h-1zM136 372h2v1h-2zM139 372h1v1h-1zM152 372h1v1h-1zM156 372h1v1h-1zM167 372h1v1h-1zM79 373h1v1h-1zM82 373h1v1h-1zM91 373h3v1h-3zM95 373h1v1h-1zM97 373h1v1h-1zM100 373h12v1h-12zM114 373h6v1h-6zM122 373h1v1h-1zM125 373h1v1h-1zM127 373h3v1h-3zM134 373h1v1h-1zM136 373h1v1h-1zM138 373h1v1h-1zM140 373h1v1h-1zM146 373h1v1h-1zM84 374h1v1h-1zM87 374h2v1h-2zM95 374h1v1h-1zM97 374h2v1h-2zM100 374h1v1h-1zM103 374h12v1h-12zM117 374h4v1h-4zM123 374h2v1h-2zM127 374h1v1h-1zM129 374h1v1h-1zM132 374h1v1h-1zM135 374h1v1h-1zM137 374h1v1h-1zM142 374h1v1h-1zM93 375h1v1h-1zM95 375h1v1h-1zM98 375h2v1h-2zM103 375h18v1h-18zM122 375h3v1h-3zM127 375h1v1h-1zM130 375h1v1h-1zM137 375h1v1h-1zM153 375h1v1h-1zM95 376h1v1h-1zM97 376h16v1h-16zM114 376h4v1h-4zM119 376h1v1h-1zM123 376h2v1h-2zM127 376h1v1h-1zM133 376h1v1h-1zM139 376h1v1h-1zM146 376h1v1h-1zM88 377h2v1h-2zM94 377h2v1h-2zM97 377h1v1h-1zM100 377h1v1h-1zM103 377h5v1h-5zM109 377h4v1h-4zM115 377h3v1h-3zM120 377h3v1h-3zM124 377h1v1h-1zM127 377h2v1h-2zM130 377h1v1h-1zM135 377h2v1h-2zM89 378h1v1h-1zM94 378h1v1h-1zM98 378h1v1h-1zM105 378h1v1h-1zM107 378h2v1h-2zM110 378h2v1h-2zM114 378h1v1h-1zM117 378h2v1h-2zM126 378h1v1h-1zM128 378h1v1h-1zM134 378h1v1h-1zM136 378h1v1h-1zM141 378h1v1h-1zM87 379h1v1h-1zM90 379h1v1h-1zM95 379h1v1h-1zM99 379h1v1h-1zM106 379h3v1h-3zM111 379h2v1h-2zM119 379h3v1h-3zM125 379h1v1h-1zM128 379h1v1h-1zM140 379h1v1h-1zM79 380h1v1h-1zM82 380h1v1h-1zM93 380h2v1h-2zM97 380h1v1h-1zM101 380h3v1h-3zM105 380h3v1h-3zM109 380h2v1h-2zM112 380h1v1h-1zM115 380h1v1h-1zM121 380h1v1h-1zM124 380h1v1h-1zM134 380h1v1h-1zM85 381h1v1h-1zM94 381h2v1h-2zM100 381h2v1h-2zM104 381h1v1h-1zM108 381h3v1h-3zM112 381h1v1h-1zM118 381h1v1h-1zM122 381h2v1h-2zM133 381h1v1h-1zM136 381h1v1h-1zM160 381h1v1h-1zM101 382h1v1h-1zM103 382h1v1h-1zM105 382h1v1h-1zM107 382h1v1h-1zM110 382h2v1h-2zM113 382h1v1h-1zM116 382h2v1h-2zM119 382h1v1h-1zM121 382h1v1h-1zM129 382h1v1h-1zM131 382h1v1h-1zM133 382h1v1h-1zM141 382h1v1h-1zM88 383h1v1h-1zM112 383h1v1h-1zM114 383h1v1h-1zM136 383h2v1h-2zM90 384h1v1h-1zM92 384h1v1h-1zM97 384h1v1h-1zM99 384h3v1h-3zM103 384h2v1h-2zM107 384h1v1h-1zM110 384h1v1h-1zM116 384h1v1h-1zM118 384h1v1h-1zM123 384h1v1h-1zM131 384h1v1h-1zM148 384h1v1h-1zM75 385h1v1h-1zM95 385h1v1h-1zM100 385h1v1h-1zM103 385h4v1h-4zM114 385h1v1h-1zM117 385h1v1h-1zM120 385h2v1h-2zM96 386h1v1h-1zM101 386h1v1h-1zM105 386h1v1h-1zM108 386h1v1h-1zM110 386h1v1h-1zM112 386h1v1h-1zM124 386h1v1h-1zM95 387h1v1h-1zM112 387h1v1h-1zM115 387h1v1h-1zM117 387h1v1h-1zM119 387h2v1h-2zM131 387h1v1h-1zM91 388h1v1h-1zM97 388h1v1h-1zM106 388h1v1h-1zM114 388h1v1h-1zM149 388h1v1h-1zM103 389h1v1h-1zM134 389h1v1h-1zM89 390h1v1h-1zM127 390h1v1h-1zM106 391h1v1h-1zM111 391h1v1h-1zM130 391h1v1h-1zM137 391h1v1h-1zM153 391h1v1h-1zM110 392h2v1h-2zM124 392h1v1h-1zM143 392h1v1h-1zM104 393h1v1h-1zM113 393h1v1h-1zM122 393h1v1h-1zM132 394h1v1h-1zM163 394h1v1h-1zM110 397h1v1h-1zM163 399h1v1h-1zM92 400h1v1h-1zM140 402h1v1h-1zM148 402h1v1h-1zM143 403h2v1h-2zM104 404h1v1h-1zM152 404h1v1h-1zM155 404h1v1h-1zM108 407h1v1h-1zM140 408h1v1h-1zM142 408h1v1h-1zM153 408h1v1h-1zM144 409h1v1h-1zM134 411h1v1h-1zM139 411h1v1h-1zM144 411h1v1h-1zM142 412h1v1h-1zM144 413h1v1h-1zM161 413h1v1h-1zM123 414h1v1h-1zM158 414h2v1h-2zM162 414h1v1h-1zM126 415h1v1h-1zM136 415h1v1h-1zM148 415h1v1h-1zM149 416h1v1h-1zM156 416h1v1h-1zM183 416h1v1h-1zM132 417h1v1h-1zM145 417h1v1h-1zM159 417h1v1h-1zM162 418h1v1h-1zM145 419h1v1h-1zM159 419h1v1h-1zM114 420h1v1h-1zM151 420h1v1h-1zM136 421h2v1h-2zM161 421h2v1h-2zM133 422h1v1h-1zM153 422h1v1h-1zM136 423h1v1h-1zM152 423h1v1h-1zM146 424h1v1h-1zM149 424h1v1h-1zM153 424h1v1h-1zM165 424h1v1h-1zM123 425h1v1h-1zM139 425h2v1h-2zM144 425h1v1h-1zM154 425h1v1h-1zM136 426h1v1h-1zM142 426h1v1h-1zM150 426h1v1h-1zM120 427h1v1h-1zM133 427h1v1h-1zM139 427h1v1h-1zM141 427h1v1h-1zM147 427h1v1h-1zM150 427h1v1h-1zM153 427h1v1h-1zM136 428h1v1h-1zM141 428h2v1h-2zM132 429h1v1h-1zM141 429h2v1h-2zM146 429h1v1h-1zM155 429h1v1h-1zM134 430h1v1h-1zM143 430h3v1h-3zM148 430h1v1h-1zM173 430h1v1h-1zM133 431h1v1h-1zM135 431h1v1h-1zM144 431h3v1h-3zM148 431h1v1h-1zM133 432h3v1h-3zM138 432h1v1h-1zM141 432h1v1h-1zM143 432h1v1h-1zM154 432h1v1h-1zM156 432h1v1h-1zM138 433h1v1h-1zM146 433h1v1h-1zM131 434h1v1h-1zM140 434h1v1h-1zM142 434h1v1h-1zM145 434h1v1h-1zM153 434h1v1h-1zM163 434h1v1h-1zM141 435h2v1h-2zM145 435h1v1h-1zM157 435h1v1h-1zM148 436h1v1h-1zM158 436h2v1h-2zM137 437h1v1h-1zM143 437h2v1h-2zM147 437h1v1h-1zM129 438h1v1h-1zM146 438h1v1h-1zM149 438h1v1h-1zM133 439h1v1h-1zM136 439h1v1h-1zM143 439h1v1h-1zM148 439h1v1h-1zM151 439h1v1h-1zM157 439h1v1h-1zM162 439h1v1h-1zM143 440h2v1h-2zM136 441h1v1h-1zM139 441h1v1h-1zM144 441h1v1h-1zM146 441h1v1h-1zM152 441h1v1h-1zM156 441h1v1h-1zM133 442h1v1h-1zM137 442h1v1h-1zM139 442h1v1h-1zM124 443h1v1h-1zM148 443h1v1h-1zM132 445h1v1h-1zM144 445h2v1h-2zM122 446h1v1h-1zM157 446h1v1h-1zM156 447h1v1h-1zM123 448h1v1h-1zM149 448h1v1h-1zM146 450h1v1h-1zM153 450h1v1h-1zM161 450h1v1h-1zM141 451h1v1h-1zM138 452h2v1h-2zM133 453h1v1h-1zM146 453h1v1h-1zM150 453h2v1h-2zM147 455h1v1h-1zM159 456h1v1h-1zM134 457h1v1h-1zM152 459h1v1h-1zM126 460h1v1h-1z" fill="#111"/><path d="M112.5 272.4V462.3M65.4 400.6H255.4" stroke="#606060" stroke-opacity="0.5" stroke-width="1.3" fill="none"/><path d="M65.4 272.4H255.4V462.3" stroke="#9a9a9a" stroke-width="1.3" fill="none"/><path d="M65.4 272.4V462.3H255.4" stroke="#3a3a3a" stroke-width="1.2" fill="none"/><path d="M60.60 462.30H65.40M63.80 448.01H65.40M63.80 439.65H65.40M63.80 433.72H65.40M62.40 429.12H65.40M63.80 425.36H65.40M63.80 422.18H65.40M63.80 419.43H65.40M63.80 417.00H65.40M60.60 414.82H65.40M63.80 400.53H65.40M63.80 392.17H65.40M63.80 386.24H65.40M62.40 381.64H65.40M63.80 377.88H65.40M63.80 374.70H65.40M63.80 371.95H65.40M63.80 369.52H65.40M60.60 367.35H65.40M63.80 353.06H65.40M63.80 344.70H65.40M63.80 338.77H65.40M62.40 334.17H65.40M63.80 330.41H65.40M63.80 327.23H65.40M63.80 324.48H65.40M63.80 322.05H65.40M60.60 319.88H65.40M63.80 305.58H65.40M63.80 297.22H65.40M63.80 291.29H65.40M62.40 286.69H65.40M63.80 282.93H65.40M63.80 279.75H65.40M63.80 277.00H65.40M63.80 274.57H65.40M60.90 272.40H65.40M65.40 462.30V468.30M79.70 462.30V464.80M88.06 462.30V464.80M94.00 462.30V464.80M98.60 462.30V466.30M102.36 462.30V464.80M105.54 462.30V464.80M108.30 462.30V464.80M110.73 462.30V464.80M112.90 462.30V468.30M127.20 462.30V464.80M135.56 462.30V464.80M141.50 462.30V464.80M146.10 462.30V466.30M149.86 462.30V464.80M153.04 462.30V464.80M155.80 462.30V464.80M158.23 462.30V464.80M160.40 462.30V468.30M174.70 462.30V464.80M183.06 462.30V464.80M189.00 462.30V464.80M193.60 462.30V466.30M197.36 462.30V464.80M200.54 462.30V464.80M203.30 462.30V464.80M205.73 462.30V464.80M207.90 462.30V468.30M222.20 462.30V464.80M230.56 462.30V464.80M236.50 462.30V464.80M241.10 462.30V466.30M244.86 462.30V464.80M248.04 462.30V464.80M250.80 462.30V464.80M253.23 462.30V464.80M255.40 462.30V468.30" stroke="#555" stroke-width="1" fill="none"/><text x="40.10" y="470.40" class="t">0</text><text x="49.30" y="461.30" class="s">0</text><text x="61.80" y="491.30" class="t">0</text><text x="71.30" y="482.70" class="s">0</text><text x="40.10" y="422.93" class="t">0</text><text x="109.30" y="491.30" class="t">0</text><text x="40.10" y="375.45" class="t">0</text><text x="49.30" y="366.35" class="s">2</text><text x="156.80" y="491.30" class="t">0</text><text x="166.30" y="482.70" class="s">2</text><text x="40.10" y="327.98" class="t">0</text><text x="49.30" y="318.88" class="s">3</text><text x="204.30" y="491.30" class="t">0</text><text x="213.80" y="482.70" class="s">3</text><text x="40.10" y="280.50" class="t">0</text><text x="49.30" y="271.40" class="s">4</text><text x="251.80" y="491.30" class="t">0</text><text x="261.30" y="482.70" class="s">4</text><text x="67.5" y="293.5" class="l">C</text><text x="239.2" y="300.9" class="p" text-anchor="end">35%</text><path d="M366 321h1v1h-1zM357 326h1v1h-1zM355 330h1v1h-1zM343 331h1v1h-1zM360 331h1v1h-1zM366 332h1v1h-1zM351 333h1v1h-1zM357 333h1v1h-1zM350 334h1v1h-1zM359 334h1v1h-1zM345 335h1v1h-1zM348 335h1v1h-1zM351 335h2v1h-2zM359 335h1v1h-1zM362 335h1v1h-1zM365 335h1v1h-1zM341 336h1v1h-1zM350 336h1v1h-1zM355 336h1v1h-1zM357 336h1v1h-1zM359 336h1v1h-1zM363 336h1v1h-1zM365 336h1v1h-1zM375 336h1v1h-1zM341 337h1v1h-1zM347 337h1v1h-1zM351 337h1v1h-1zM354 337h1v1h-1zM359 337h1v1h-1zM370 337h1v1h-1zM343 338h1v1h-1zM349 338h4v1h-4zM355 338h1v1h-1zM358 338h1v1h-1zM360 338h1v1h-1zM362 338h1v1h-1zM364 338h1v1h-1zM370 338h1v1h-1zM373 338h1v1h-1zM347 339h3v1h-3zM351 339h2v1h-2zM354 339h2v1h-2zM357 339h1v1h-1zM359 339h1v1h-1zM370 339h1v1h-1zM373 339h1v1h-1zM377 339h1v1h-1zM381 339h1v1h-1zM349 340h1v1h-1zM355 340h4v1h-4zM360 340h4v1h-4zM366 340h4v1h-4zM343 341h1v1h-1zM346 341h1v1h-1zM348 341h1v1h-1zM350 341h4v1h-4zM358 341h1v1h-1zM360 341h3v1h-3zM365 341h1v1h-1zM370 341h1v1h-1zM379 341h1v1h-1zM385 341h1v1h-1zM336 342h1v1h-1zM344 342h1v1h-1zM353 342h16v1h-16zM373 342h1v1h-1zM377 342h1v1h-1zM341 343h1v1h-1zM345 343h2v1h-2zM349 343h7v1h-7zM357 343h3v1h-3zM361 343h2v1h-2zM365 343h2v1h-2zM368 343h2v1h-2zM383 343h1v1h-1zM339 344h26v1h-26zM366 344h1v1h-1zM368 344h2v1h-2zM371 344h1v1h-1zM374 344h2v1h-2zM379 344h1v1h-1zM336 345h2v1h-2zM341 345h1v1h-1zM344 345h1v1h-1zM346 345h9v1h-9zM356 345h13v1h-13zM371 345h1v1h-1zM374 345h1v1h-1zM378 345h1v1h-1zM384 345h2v1h-2zM341 346h1v1h-1zM343 346h1v1h-1zM346 346h3v1h-3zM351 346h7v1h-7zM359 346h10v1h-10zM371 346h1v1h-1zM374 346h1v1h-1zM381 346h1v1h-1zM389 346h1v1h-1zM332 347h1v1h-1zM340 347h11v1h-11zM352 347h14v1h-14zM367 347h4v1h-4zM373 347h2v1h-2zM340 348h1v1h-1zM344 348h26v1h-26zM372 348h3v1h-3zM378 348h1v1h-1zM324 349h1v1h-1zM337 349h1v1h-1zM340 349h1v1h-1zM344 349h4v1h-4zM349 349h19v1h-19zM369 349h9v1h-9zM380 349h1v1h-1zM396 349h1v1h-1zM328 350h1v1h-1zM338 350h1v1h-1zM340 350h1v1h-1zM342 350h29v1h-29zM372 350h3v1h-3zM383 350h1v1h-1zM335 351h2v1h-2zM338 351h1v1h-1zM341 351h25v1h-25zM367 351h1v1h-1zM369 351h5v1h-5zM375 351h4v1h-4zM381 351h1v1h-1zM393 351h1v1h-1zM402 351h1v1h-1zM330 352h1v1h-1zM334 352h1v1h-1zM336 352h1v1h-1zM340 352h6v1h-6zM347 352h23v1h-23zM371 352h3v1h-3zM375 352h3v1h-3zM379 352h1v1h-1zM381 352h1v1h-1zM388 352h1v1h-1zM416 352h1v1h-1zM334 353h1v1h-1zM338 353h37v1h-37zM376 353h1v1h-1zM381 353h2v1h-2zM387 353h1v1h-1zM395 353h1v1h-1zM331 354h1v1h-1zM337 354h2v1h-2zM340 354h8v1h-8zM349 354h24v1h-24zM374 354h3v1h-3zM379 354h1v1h-1zM382 354h1v1h-1zM388 354h1v1h-1zM395 354h1v1h-1zM337 355h1v1h-1zM339 355h31v1h-31zM371 355h1v1h-1zM375 355h2v1h-2zM378 355h2v1h-2zM381 355h1v1h-1zM392 355h1v1h-1zM448 355h1v1h-1zM333 356h2v1h-2zM336 356h1v1h-1zM340 356h1v1h-1zM342 356h33v1h-33zM376 356h1v1h-1zM378 356h1v1h-1zM380 356h1v1h-1zM382 356h1v1h-1zM330 357h1v1h-1zM337 357h2v1h-2zM340 357h34v1h-34zM377 357h1v1h-1zM383 357h2v1h-2zM386 357h1v1h-1zM336 358h1v1h-1zM338 358h2v1h-2zM341 358h1v1h-1zM343 358h30v1h-30zM374 358h1v1h-1zM376 358h4v1h-4zM381 358h1v1h-1zM383 358h1v1h-1zM388 358h1v1h-1zM397 358h1v1h-1zM327 359h1v1h-1zM332 359h1v1h-1zM334 359h1v1h-1zM336 359h1v1h-1zM339 359h3v1h-3zM343 359h29v1h-29zM373 359h5v1h-5zM383 359h1v1h-1zM386 359h1v1h-1zM395 359h2v1h-2zM409 359h1v1h-1zM336 360h1v1h-1zM338 360h36v1h-36zM375 360h3v1h-3zM379 360h3v1h-3zM386 360h1v1h-1zM392 360h1v1h-1zM408 360h1v1h-1zM328 361h1v1h-1zM332 361h1v1h-1zM334 361h1v1h-1zM337 361h1v1h-1zM339 361h35v1h-35zM375 361h1v1h-1zM377 361h1v1h-1zM379 361h2v1h-2zM383 361h1v1h-1zM398 361h1v1h-1zM328 362h1v1h-1zM333 362h2v1h-2zM337 362h36v1h-36zM374 362h6v1h-6zM390 362h2v1h-2zM332 363h2v1h-2zM335 363h1v1h-1zM338 363h1v1h-1zM341 363h34v1h-34zM380 363h4v1h-4zM389 363h1v1h-1zM391 363h1v1h-1zM410 363h1v1h-1zM424 363h1v1h-1zM339 364h4v1h-4zM344 364h27v1h-27zM373 364h1v1h-1zM375 364h1v1h-1zM377 364h2v1h-2zM382 364h1v1h-1zM384 364h1v1h-1zM395 364h1v1h-1zM400 364h1v1h-1zM422 364h1v1h-1zM335 365h1v1h-1zM337 365h2v1h-2zM341 365h2v1h-2zM344 365h24v1h-24zM369 365h10v1h-10zM381 365h1v1h-1zM383 365h1v1h-1zM389 365h1v1h-1zM392 365h2v1h-2zM396 365h2v1h-2zM331 366h1v1h-1zM342 366h3v1h-3zM346 366h20v1h-20zM367 366h5v1h-5zM373 366h4v1h-4zM379 366h1v1h-1zM327 367h1v1h-1zM338 367h1v1h-1zM340 367h3v1h-3zM344 367h30v1h-30zM377 367h1v1h-1zM380 367h1v1h-1zM382 367h2v1h-2zM398 367h1v1h-1zM403 367h1v1h-1zM333 368h1v1h-1zM335 368h1v1h-1zM341 368h1v1h-1zM343 368h23v1h-23zM367 368h1v1h-1zM369 368h1v1h-1zM371 368h1v1h-1zM375 368h2v1h-2zM378 368h1v1h-1zM381 368h3v1h-3zM390 368h1v1h-1zM392 368h2v1h-2zM323 369h1v1h-1zM334 369h1v1h-1zM336 369h1v1h-1zM338 369h3v1h-3zM342 369h2v1h-2zM346 369h1v1h-1zM348 369h21v1h-21zM370 369h3v1h-3zM374 369h1v1h-1zM378 369h1v1h-1zM381 369h2v1h-2zM384 369h1v1h-1zM388 369h1v1h-1zM391 369h2v1h-2zM396 369h1v1h-1zM330 370h1v1h-1zM341 370h3v1h-3zM345 370h1v1h-1zM347 370h25v1h-25zM374 370h3v1h-3zM378 370h1v1h-1zM387 370h1v1h-1zM331 371h1v1h-1zM338 371h1v1h-1zM341 371h4v1h-4zM346 371h3v1h-3zM350 371h19v1h-19zM370 371h4v1h-4zM376 371h4v1h-4zM381 371h1v1h-1zM385 371h1v1h-1zM391 371h1v1h-1zM322 372h1v1h-1zM335 372h1v1h-1zM338 372h1v1h-1zM341 372h1v1h-1zM343 372h20v1h-20zM364 372h8v1h-8zM375 372h2v1h-2zM378 372h1v1h-1zM381 372h2v1h-2zM384 372h2v1h-2zM336 373h1v1h-1zM340 373h1v1h-1zM342 373h2v1h-2zM347 373h17v1h-17zM365 373h7v1h-7zM373 373h1v1h-1zM381 373h2v1h-2zM384 373h2v1h-2zM391 373h1v1h-1zM324 374h1v1h-1zM338 374h1v1h-1zM341 374h2v1h-2zM344 374h4v1h-4zM349 374h2v1h-2zM352 374h15v1h-15zM368 374h2v1h-2zM371 374h3v1h-3zM375 374h1v1h-1zM379 374h2v1h-2zM382 374h1v1h-1zM385 374h1v1h-1zM401 374h1v1h-1zM325 375h1v1h-1zM338 375h1v1h-1zM343 375h4v1h-4zM348 375h3v1h-3zM352 375h4v1h-4zM358 375h10v1h-10zM369 375h1v1h-1zM371 375h2v1h-2zM374 375h1v1h-1zM377 375h1v1h-1zM381 375h1v1h-1zM387 375h1v1h-1zM413 375h1v1h-1zM336 376h1v1h-1zM341 376h1v1h-1zM346 376h5v1h-5zM353 376h7v1h-7zM361 376h3v1h-3zM365 376h5v1h-5zM371 376h2v1h-2zM375 376h1v1h-1zM378 376h3v1h-3zM384 376h1v1h-1zM393 376h1v1h-1zM399 376h1v1h-1zM339 377h1v1h-1zM342 377h3v1h-3zM348 377h1v1h-1zM350 377h4v1h-4zM355 377h5v1h-5zM361 377h1v1h-1zM363 377h3v1h-3zM367 377h1v1h-1zM369 377h2v1h-2zM373 377h3v1h-3zM391 377h1v1h-1zM336 378h1v1h-1zM338 378h1v1h-1zM344 378h1v1h-1zM346 378h1v1h-1zM348 378h4v1h-4zM353 378h5v1h-5zM359 378h1v1h-1zM361 378h5v1h-5zM369 378h1v1h-1zM371 378h1v1h-1zM374 378h2v1h-2zM379 378h1v1h-1zM381 378h2v1h-2zM343 379h1v1h-1zM346 379h2v1h-2zM350 379h1v1h-1zM355 379h2v1h-2zM358 379h3v1h-3zM362 379h3v1h-3zM366 379h6v1h-6zM373 379h2v1h-2zM376 379h1v1h-1zM387 379h1v1h-1zM396 379h1v1h-1zM323 380h1v1h-1zM343 380h1v1h-1zM346 380h2v1h-2zM349 380h4v1h-4zM354 380h1v1h-1zM359 380h2v1h-2zM362 380h1v1h-1zM365 380h1v1h-1zM368 380h1v1h-1zM372 380h1v1h-1zM336 381h1v1h-1zM344 381h1v1h-1zM347 381h1v1h-1zM350 381h2v1h-2zM353 381h2v1h-2zM356 381h2v1h-2zM359 381h1v1h-1zM361 381h3v1h-3zM365 381h1v1h-1zM368 381h2v1h-2zM371 381h2v1h-2zM375 381h1v1h-1zM385 381h1v1h-1zM342 382h2v1h-2zM345 382h1v1h-1zM349 382h1v1h-1zM353 382h2v1h-2zM356 382h1v1h-1zM359 382h1v1h-1zM361 382h3v1h-3zM365 382h1v1h-1zM368 382h1v1h-1zM371 382h2v1h-2zM376 382h1v1h-1zM334 383h1v1h-1zM346 383h1v1h-1zM348 383h5v1h-5zM355 383h1v1h-1zM359 383h3v1h-3zM366 383h1v1h-1zM368 383h1v1h-1zM371 383h1v1h-1zM377 383h2v1h-2zM330 384h1v1h-1zM340 384h2v1h-2zM351 384h1v1h-1zM356 384h2v1h-2zM361 384h3v1h-3zM365 384h2v1h-2zM350 385h1v1h-1zM355 385h1v1h-1zM357 385h1v1h-1zM362 385h3v1h-3zM368 385h1v1h-1zM370 385h1v1h-1zM373 385h1v1h-1zM377 385h1v1h-1zM339 386h1v1h-1zM350 386h2v1h-2zM353 386h1v1h-1zM358 386h1v1h-1zM364 386h1v1h-1zM367 386h1v1h-1zM382 386h1v1h-1zM341 387h1v1h-1zM348 387h1v1h-1zM350 387h1v1h-1zM353 387h1v1h-1zM356 387h1v1h-1zM358 387h1v1h-1zM363 387h2v1h-2zM366 387h1v1h-1zM368 387h1v1h-1zM370 387h1v1h-1zM338 388h1v1h-1zM357 388h2v1h-2zM360 388h1v1h-1zM365 388h1v1h-1zM333 389h1v1h-1zM346 389h2v1h-2zM349 389h1v1h-1zM359 389h1v1h-1zM349 390h1v1h-1zM365 390h1v1h-1zM375 390h1v1h-1zM377 390h1v1h-1zM383 390h1v1h-1zM364 391h1v1h-1zM366 391h1v1h-1zM377 391h1v1h-1zM419 391h1v1h-1zM358 392h1v1h-1zM364 392h1v1h-1zM366 392h1v1h-1zM373 392h1v1h-1zM378 392h1v1h-1zM381 392h1v1h-1zM334 393h1v1h-1zM353 393h2v1h-2zM365 393h1v1h-1zM343 394h1v1h-1zM346 394h1v1h-1zM345 395h1v1h-1zM357 395h1v1h-1zM370 395h1v1h-1zM362 396h1v1h-1zM370 396h1v1h-1zM382 396h1v1h-1zM384 397h1v1h-1zM341 398h1v1h-1zM345 398h1v1h-1zM354 398h1v1h-1zM356 398h1v1h-1zM362 398h1v1h-1zM362 399h1v1h-1zM371 399h1v1h-1zM378 399h1v1h-1zM395 399h1v1h-1zM361 400h1v1h-1zM392 400h1v1h-1zM337 401h1v1h-1zM355 401h1v1h-1zM359 401h1v1h-1zM367 401h1v1h-1zM357 402h1v1h-1zM360 403h1v1h-1zM367 403h1v1h-1zM371 403h1v1h-1zM396 406h1v1h-1zM381 407h1v1h-1zM387 408h1v1h-1zM394 408h1v1h-1zM391 410h1v1h-1zM393 410h1v1h-1zM400 410h1v1h-1zM388 411h1v1h-1zM408 413h1v1h-1zM393 414h1v1h-1zM362 415h1v1h-1zM386 415h1v1h-1zM373 416h1v1h-1zM396 416h1v1h-1zM399 416h1v1h-1zM405 416h1v1h-1zM377 417h1v1h-1zM358 418h1v1h-1zM379 418h1v1h-1zM366 419h1v1h-1zM371 419h1v1h-1zM377 419h1v1h-1zM390 419h1v1h-1zM397 419h1v1h-1zM383 420h1v1h-1zM392 420h1v1h-1zM400 420h1v1h-1zM403 420h1v1h-1zM380 421h1v1h-1zM386 421h1v1h-1zM389 421h1v1h-1zM397 422h1v1h-1zM378 423h1v1h-1zM381 423h1v1h-1zM387 423h1v1h-1zM391 423h1v1h-1zM398 423h1v1h-1zM384 424h2v1h-2zM397 424h1v1h-1zM359 425h1v1h-1zM371 425h1v1h-1zM381 425h1v1h-1zM386 425h1v1h-1zM393 425h1v1h-1zM401 425h1v1h-1zM408 425h1v1h-1zM355 426h1v1h-1zM395 426h1v1h-1zM372 427h1v1h-1zM380 427h1v1h-1zM387 427h2v1h-2zM396 427h2v1h-2zM384 428h1v1h-1zM386 428h1v1h-1zM392 428h1v1h-1zM394 428h1v1h-1zM360 429h1v1h-1zM373 429h1v1h-1zM382 429h1v1h-1zM374 430h1v1h-1zM382 430h1v1h-1zM388 430h1v1h-1zM395 430h1v1h-1zM398 430h2v1h-2zM384 431h1v1h-1zM371 432h1v1h-1zM378 432h2v1h-2zM387 432h1v1h-1zM372 433h1v1h-1zM383 433h1v1h-1zM393 433h1v1h-1zM407 433h1v1h-1zM371 434h1v1h-1zM395 434h1v1h-1zM399 434h1v1h-1zM358 435h1v1h-1zM377 435h1v1h-1zM408 435h1v1h-1zM366 436h1v1h-1zM373 436h1v1h-1zM379 436h1v1h-1zM385 436h1v1h-1zM393 436h1v1h-1zM397 436h1v1h-1zM362 438h1v1h-1zM367 438h1v1h-1zM378 438h1v1h-1zM384 438h1v1h-1zM386 438h1v1h-1zM390 438h1v1h-1zM403 438h1v1h-1zM363 439h1v1h-1zM374 439h1v1h-1zM380 439h1v1h-1zM366 440h1v1h-1zM389 440h1v1h-1zM391 440h1v1h-1zM398 440h2v1h-2zM379 441h1v1h-1zM389 441h1v1h-1zM394 441h1v1h-1zM399 441h1v1h-1zM382 442h3v1h-3zM391 442h1v1h-1zM395 442h1v1h-1zM400 442h2v1h-2zM376 443h1v1h-1zM384 443h1v1h-1zM387 443h1v1h-1zM393 443h1v1h-1zM358 444h1v1h-1zM368 444h1v1h-1zM380 444h2v1h-2zM390 444h1v1h-1zM411 444h1v1h-1zM390 445h1v1h-1zM393 445h2v1h-2zM396 445h1v1h-1zM378 446h2v1h-2zM390 446h1v1h-1zM396 446h1v1h-1zM405 446h1v1h-1zM390 447h1v1h-1zM366 448h1v1h-1zM391 448h1v1h-1zM371 449h1v1h-1zM363 450h1v1h-1zM375 450h1v1h-1zM387 450h1v1h-1zM391 450h1v1h-1zM395 450h1v1h-1zM381 451h1v1h-1zM384 451h1v1h-1zM394 451h1v1h-1zM404 451h1v1h-1zM386 452h1v1h-1zM397 452h1v1h-1zM404 452h1v1h-1zM377 453h1v1h-1zM387 453h1v1h-1zM392 454h1v1h-1zM401 454h1v1h-1zM388 456h1v1h-1zM391 456h1v1h-1zM419 456h1v1h-1zM412 457h1v1h-1zM383 459h1v1h-1zM404 459h1v1h-1z" fill="#111"/><path d="M362.5 272.3V462.4M315.8 400.4H505.8" stroke="#606060" stroke-opacity="0.5" stroke-width="1.3" fill="none"/><path d="M315.8 272.3H505.8V462.4" stroke="#9a9a9a" stroke-width="1.3" fill="none"/><path d="M315.8 272.3V462.4H505.8" stroke="#3a3a3a" stroke-width="1.2" fill="none"/><path d="M311.00 462.40H315.80M314.20 448.09H315.80M314.20 439.72H315.80M314.20 433.79H315.80M312.80 429.18H315.80M314.20 425.42H315.80M314.20 422.24H315.80M314.20 419.48H315.80M314.20 417.05H315.80M311.00 414.88H315.80M314.20 400.57H315.80M314.20 392.20H315.80M314.20 386.26H315.80M312.80 381.66H315.80M314.20 377.89H315.80M314.20 374.71H315.80M314.20 371.96H315.80M314.20 369.52H315.80M311.00 367.35H315.80M314.20 353.04H315.80M314.20 344.67H315.80M314.20 338.74H315.80M312.80 334.13H315.80M314.20 330.37H315.80M314.20 327.19H315.80M314.20 324.43H315.80M314.20 322.00H315.80M311.00 319.82H315.80M314.20 305.52H315.80M314.20 297.15H315.80M314.20 291.21H315.80M312.80 286.61H315.80M314.20 282.84H315.80M314.20 279.66H315.80M314.20 276.91H315.80M314.20 274.47H315.80M311.30 272.30H315.80M315.80 462.40V468.40M330.10 462.40V464.90M338.46 462.40V464.90M344.40 462.40V464.90M349.00 462.40V466.40M352.76 462.40V464.90M355.94 462.40V464.90M358.70 462.40V464.90M361.13 462.40V464.90M363.30 462.40V468.40M377.60 462.40V464.90M385.96 462.40V464.90M391.90 462.40V464.90M396.50 462.40V466.40M400.26 462.40V464.90M403.44 462.40V464.90M406.20 462.40V464.90M408.63 462.40V464.90M410.80 462.40V468.40M425.10 462.40V464.90M433.46 462.40V464.90M439.40 462.40V464.90M444.00 462.40V466.40M447.76 462.40V464.90M450.94 462.40V464.90M453.70 462.40V464.90M456.13 462.40V464.90M458.30 462.40V468.40M472.60 462.40V464.90M480.96 462.40V464.90M486.90 462.40V464.90M491.50 462.40V466.40M495.26 462.40V464.90M498.44 462.40V464.90M501.20 462.40V464.90M503.63 462.40V464.90M505.80 462.40V468.40" stroke="#555" stroke-width="1" fill="none"/><text x="290.50" y="470.50" class="t">0</text><text x="299.70" y="461.40" class="s">0</text><text x="312.20" y="491.40" class="t">0</text><text x="321.70" y="482.80" class="s">0</text><text x="290.50" y="422.98" class="t">0</text><text x="359.70" y="491.40" class="t">0</text><text x="290.50" y="375.45" class="t">0</text><text x="299.70" y="366.35" class="s">2</text><text x="407.20" y="491.40" class="t">0</text><text x="416.70" y="482.80" class="s">2</text><text x="290.50" y="327.93" class="t">0</text><text x="299.70" y="318.82" class="s">3</text><text x="454.70" y="491.40" class="t">0</text><text x="464.20" y="482.80" class="s">3</text><text x="290.50" y="280.40" class="t">0</text><text x="299.70" y="271.30" class="s">4</text><text x="502.20" y="491.40" class="t">0</text><text x="511.70" y="482.80" class="s">4</text><text x="318.5" y="291.9" class="l">D</text><text x="491.6" y="300.7" class="p" text-anchor="end">27%</text><path d="M35.65 213.50V200.90M36.01 201.17L31.78 204.50M56.75 234.40V221.80M57.11 222.07L52.88 225.40M35.65 165.60V153.00M36.01 153.27L31.78 156.60M104.75 234.40V221.80M105.11 222.07L100.88 225.40M35.65 117.70V105.10M36.01 105.37L31.78 108.70M152.75 234.40V221.80M153.11 222.07L148.88 225.40M35.65 69.80V57.20M36.01 57.47L31.78 60.80M200.75 234.40V221.80M201.11 222.07L196.88 225.40M35.65 21.90V9.30M36.01 9.57L31.78 12.90M248.75 234.40V221.80M249.11 222.07L244.88 225.40M286.35 214.70V202.10M286.71 202.37L282.48 205.70M307.45 235.60V223.00M307.81 223.27L303.58 226.60M286.35 166.88V154.28M286.71 154.54L282.48 157.88M355.40 235.60V223.00M355.76 223.27L351.53 226.60M286.35 119.05V106.45M286.71 106.72L282.48 110.05M403.35 235.60V223.00M403.71 223.27L399.48 226.60M286.35 71.22V58.62M286.71 58.89L282.48 62.22M451.30 235.60V223.00M451.66 223.27L447.43 226.60M286.35 23.40V10.80M286.71 11.07L282.48 14.40M499.25 235.60V223.00M499.61 223.27L495.38 226.60M36.55 470.40V457.80M36.91 458.07L32.68 461.40M58.25 491.30V478.70M58.61 478.97L54.38 482.30M36.55 422.93V410.32M36.91 410.60L32.68 413.93M105.75 491.30V478.70M106.11 478.97L101.88 482.30M36.55 375.45V362.85M36.91 363.12L32.68 366.45M153.25 491.30V478.70M153.61 478.97L149.38 482.30M36.55 327.98V315.38M36.91 315.65L32.68 318.98M200.75 491.30V478.70M201.11 478.97L196.88 482.30M36.55 280.50V267.90M36.91 268.17L32.68 271.50M248.25 491.30V478.70M248.61 478.97L244.38 482.30M286.95 470.50V457.90M287.31 458.17L283.08 461.50M308.65 491.40V478.80M309.01 479.07L304.78 482.40M286.95 422.98V410.38M287.31 410.65L283.08 413.98M356.15 491.40V478.80M356.51 479.07L352.28 482.40M286.95 375.45V362.85M287.31 363.12L283.08 366.45M403.65 491.40V478.80M404.01 479.07L399.78 482.40M286.95 327.93V315.32M287.31 315.60L283.08 318.93M451.15 491.40V478.80M451.51 479.07L447.28 482.40M286.95 280.40V267.80M287.31 268.07L283.08 271.40M498.65 491.40V478.80M499.01 479.07L494.78 482.40" stroke="#000" stroke-width="1.80" fill="none"/><path d="M53.11 156.50V146.35M53.40 146.57L49.99 149.25M122.51 225.80V215.65M122.80 215.87L119.40 218.55M303.81 157.78V147.62M304.10 147.84L300.69 150.53M373.16 227.00V216.85M373.45 217.07L370.05 219.75M54.01 413.82V403.68M54.30 403.89L50.90 406.57M123.51 482.70V472.55M123.80 472.77L120.40 475.45M304.41 413.88V403.73M304.70 403.94L301.30 406.62M373.91 482.80V472.65M374.20 472.87L370.80 475.55" stroke="#000" stroke-width="1.52" fill="none"/><g transform="translate(20.2,454) rotate(-90)"><text x="0" y="0" class="x">CD</text><path d="M42.46 0V-16.80M42.94 -16.44L37.30 -12.00" stroke="#000" stroke-width="2.21" fill="none"/><text x="48.00" y="0" class="x">9</text></g><text x="63.8" y="528.5" class="x">ZAP-70</text><path d="M5.2 474.5V514.4H46M-0.5 486.5L5.2 474.5L11 486.5M34 508.8L46 514.4L34 520.3" stroke="#000" stroke-width="1.6" fill="none"/></svg></body></html>
